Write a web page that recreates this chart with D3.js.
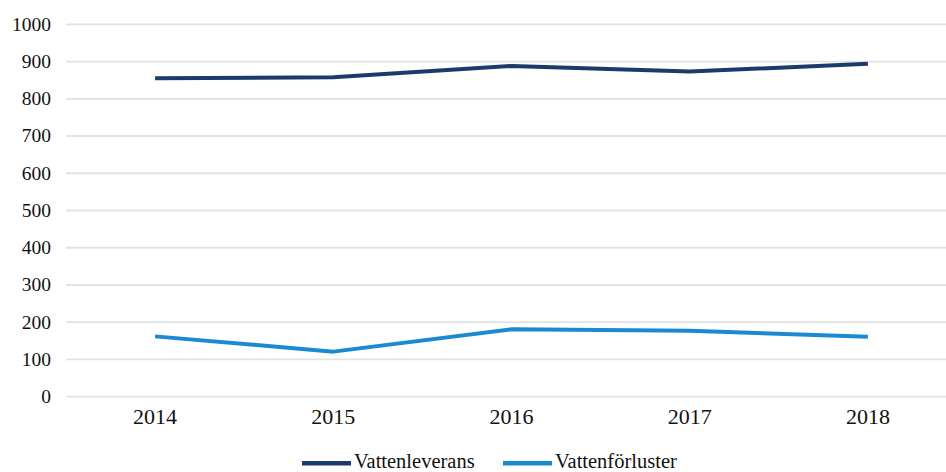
<!DOCTYPE html>
<html>
<head>
<meta charset="utf-8">
<script src="https://cdn.jsdelivr.net/npm/d3@7"></script>
<style>
body{margin:0;background:#fff;}
svg{display:block;}
text{font-family:"Liberation Serif","Times New Roman",serif;fill:#111;}
</style>
</head>
<body>
<svg id="c" width="946" height="472"></svg>
<script>
const years = ["2014","2015","2016","2017","2018"];
const vattenleverans = [855, 858, 888, 873, 894];
const vattenforluster = [162, 121, 181, 177, 161];
const yTicks = [0,100,200,300,400,500,600,700,800,900,1000];
const seriesNames = ["Vattenleverans","Vattenförluster"];
const colors = ["#1c3a6c","#1b8ad3"];

(function(){
const svg = d3.select("#c");
const mLeft = 66, mRight = 957, mTop = 24.3, mBottom = 396.7;
const x = d3.scaleBand().domain(years).range([mLeft, mRight]);
const y = d3.scaleLinear().domain([0,1000]).range([mBottom, mTop]);
const serif = "'Liberation Serif','Times New Roman',serif";

// gridlines
svg.append("g").selectAll("line").data(yTicks).join("line")
  .attr("x1", mLeft).attr("x2", 946)
  .attr("y1", d=>y(d)).attr("y2", d=>y(d))
  .attr("stroke","#e3e3e3").attr("stroke-width",1.8);

// y labels
const yAxis = d3.axisLeft(y).tickValues(yTicks).tickFormat(d3.format("d")).tickSize(0).tickPadding(0);
const gy = svg.append("g").attr("transform","translate(51,0)").call(yAxis);
gy.attr("font-family", null);
gy.select(".domain").remove();
gy.selectAll("text").style("font-size","19.5px").style("font-family",serif).style("fill","#111").attr("dy","0.3em");

// x labels
const xAxis = d3.axisBottom(x).tickSize(0).tickPadding(0);
const gx = svg.append("g").attr("transform","translate(0,424)").call(xAxis);
gx.attr("font-family", null);
gx.select(".domain").remove();
gx.selectAll("text").style("font-size","22px").style("font-family",serif).style("fill","#111").attr("dy","0");

const line = d3.line().x((d,i)=>x(years[i])+x.bandwidth()/2).y(d=>y(d));
[vattenleverans, vattenforluster].forEach((s,k)=>{
  svg.append("path").datum(s).attr("d",line)
    .attr("fill","none").attr("stroke",colors[k]).attr("stroke-width",4)
    .attr("stroke-linejoin","round");
});

// legend
const leg = [{x:302, tx:354},{x:503, tx:555}];
seriesNames.forEach((n,k)=>{
  svg.append("line").attr("x1",leg[k].x).attr("x2",leg[k].x+49)
    .attr("y1",463.3).attr("y2",463.3)
    .attr("stroke",colors[k]).attr("stroke-width",4.5);
  svg.append("text").attr("x",leg[k].tx).attr("y",467.5)
    .style("font-size","20.5px").style("font-family",serif).text(n);
});
})();
</script>
</body>
</html>
